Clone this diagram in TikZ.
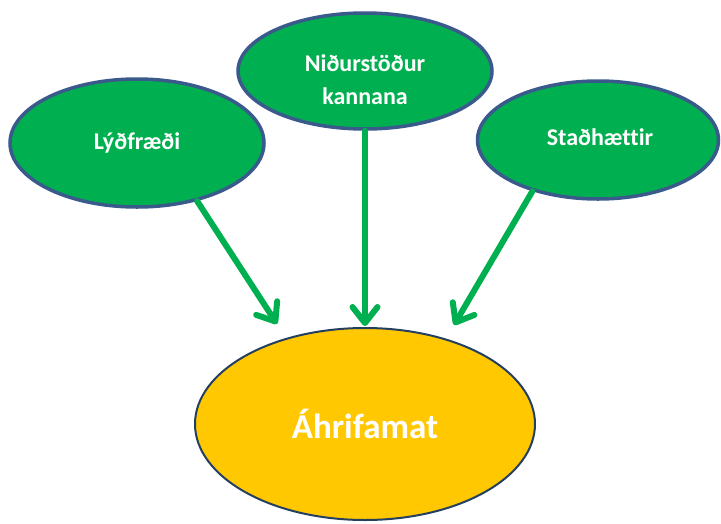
\documentclass[tikz,border=0pt]{standalone}
\usepackage{fontspec}
\setmainfont{Carlito}[Ligatures=CommonOff]
\usetikzlibrary{shapes.geometric,arrows.meta}
\definecolor{nodegreen}{HTML}{00B050}
\definecolor{nodeblue}{HTML}{3A5A8C}
\definecolor{nodeyellow}{HTML}{FFC800}
\definecolor{yellowedge}{HTML}{243F60}
\begin{document}
\begin{tikzpicture}[x=1pt,y=-1pt,
  greenell/.style={ellipse, draw=nodeblue, line width=3.5pt, fill=nodegreen, inner sep=0pt},
  greentext/.style={text=white, font=\bfseries\fontsize{24}{33}\selectfont, align=center, inner sep=0pt},
  yellowell/.style={ellipse, draw=yellowedge, line width=2pt, fill=nodeyellow,
    text=white, font=\bfseries\fontsize{35}{40}\selectfont, inner sep=0pt},
  flow/.style={draw=nodegreen, line width=6pt, line cap=round,
    -{Straight Barb[length=16pt,width=25pt,round]}}]
\useasboundingbox (0,0) rectangle (721,523);
\node[greenell, minimum width=254pt, minimum height=128pt] (L) at (137,143) {};
\node[greentext] (Lt) at (L.center) {Lýðfræði};
\node[greenell, minimum width=254pt, minimum height=116pt] (M) at (365,71) {};
\node[greentext] (Mt) at (365,80) {Niðurstöður\\kannana};
\node[greenell, minimum width=241pt, minimum height=118pt] (R) at (598,140) {};
\node[greentext] (Rt) at (600,137) {Staðhættir};
\node[yellowell, minimum width=340pt, minimum height=192pt] (Y) at (365,424) {Áhrifamat};
\coordinate (tL) at (277,324);
\coordinate (tM) at (365,326);
\coordinate (tR) at (454,325);
\draw[flow] (L.-44) -- (tL);
\draw[flow] (M.south) -- (tM);
\draw[flow] (R.-142) -- (tR);
\end{tikzpicture}
\end{document}
